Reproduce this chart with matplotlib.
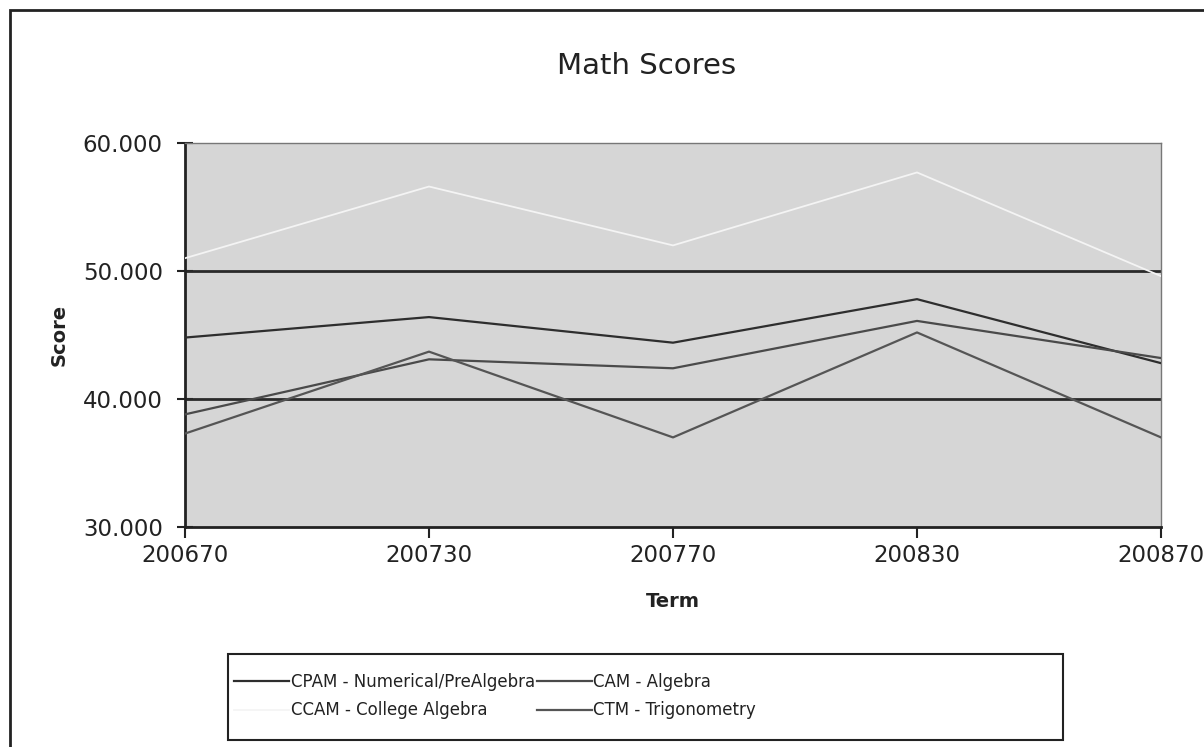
import matplotlib.pyplot as plt
from matplotlib.patches import Rectangle

terms = ["200670", "200730", "200770", "200830", "200870"]
cpam = [44.8, 46.4, 44.4, 47.8, 42.8]
ccam = [51.0, 56.6, 52.0, 57.7, 49.6]
cam = [38.8, 43.1, 42.4, 46.1, 43.2]
ctm = [37.3, 43.7, 37.0, 45.2, 37.0]

labels = ["CPAM - Numerical/PreAlgebra", "CCAM - College Algebra",
          "CAM - Algebra", "CTM - Trigonometry"]

plt.rcParams['font.family'] = ['DejaVu Sans']

fig = plt.figure(figsize=(12.04, 7.47), dpi=100)
W, H = 1204, 747
ax = fig.add_axes([185 / W, 1 - 527 / H, 976 / W, 384 / H])
ax.set_facecolor('#d6d6d6')

x = list(range(len(terms)))
l1, = ax.plot(x, cpam, color='#2e2e2e', lw=1.6, label=labels[0], zorder=3)
l2, = ax.plot(x, ccam, color='#f4f4f4', lw=1.3, label=labels[1], zorder=3)
l3, = ax.plot(x, cam, color='#4a4a4a', lw=1.6, label=labels[2], zorder=3)
l4, = ax.plot(x, ctm, color='#555555', lw=1.6, label=labels[3], zorder=3)

ax.set_xlim(0, len(terms) - 1)
ax.set_ylim(30, 60)
ax.set_xticks(x)
ax.set_xticklabels(terms)
ax.set_yticks([30, 40, 50, 60])
ax.set_yticklabels(["30.000", "40.000", "50.000", "60.000"])
for yv in [40, 50]:
    ax.axhline(yv, color='#2a2a2a', lw=2.0, zorder=2)

ax.tick_params(axis='both', labelsize=16.5, colors='#222222', width=1.5)
ax.tick_params(axis='y', direction='inout', length=12, pad=10)
ax.tick_params(axis='x', direction='out', length=8, pad=4)
ax.spines['left'].set_color('#222222')
ax.spines['left'].set_linewidth(2)
ax.spines['bottom'].set_color('#222222')
ax.spines['bottom'].set_linewidth(2)
ax.spines['top'].set_color('#777777')
ax.spines['top'].set_linewidth(1)
ax.spines['right'].set_color('#777777')
ax.spines['right'].set_linewidth(1)

ax.set_ylabel("Score", fontsize=14, fontweight='bold', color='#222222', labelpad=10)
ax.set_xlabel("Term", fontsize=14, fontweight='bold', color='#222222', labelpad=18)
fig.text(647 / W, 1 - 66 / H, "Math Scores", fontsize=21, color='#222222',
         ha='center', va='center')

# outer chart frame
fig.patches.append(Rectangle((10 / W, -0.05), 1.2, 1 - 10 / H + 0.05,
                             transform=fig.transFigure, fill=False,
                             edgecolor='#222222', lw=2))

# legend box
fig.patches.append(Rectangle((228 / W, 1 - 740 / H), (1063 - 228) / W, 86 / H,
                             transform=fig.transFigure, fill=False,
                             edgecolor='#222222', lw=1.5))
fig.legend(handles=[l1, l2, l3, l4], loc='center left',
           bbox_to_anchor=(226 / W, 1 - 696 / H), ncol=2, frameon=False,
           fontsize=12, handlelength=3.3, handletextpad=0.1,
           columnspacing=0.1, labelspacing=0.65, borderpad=0, labelcolor='#222222')

fig.savefig("out.png", dpi=100, facecolor='white')
